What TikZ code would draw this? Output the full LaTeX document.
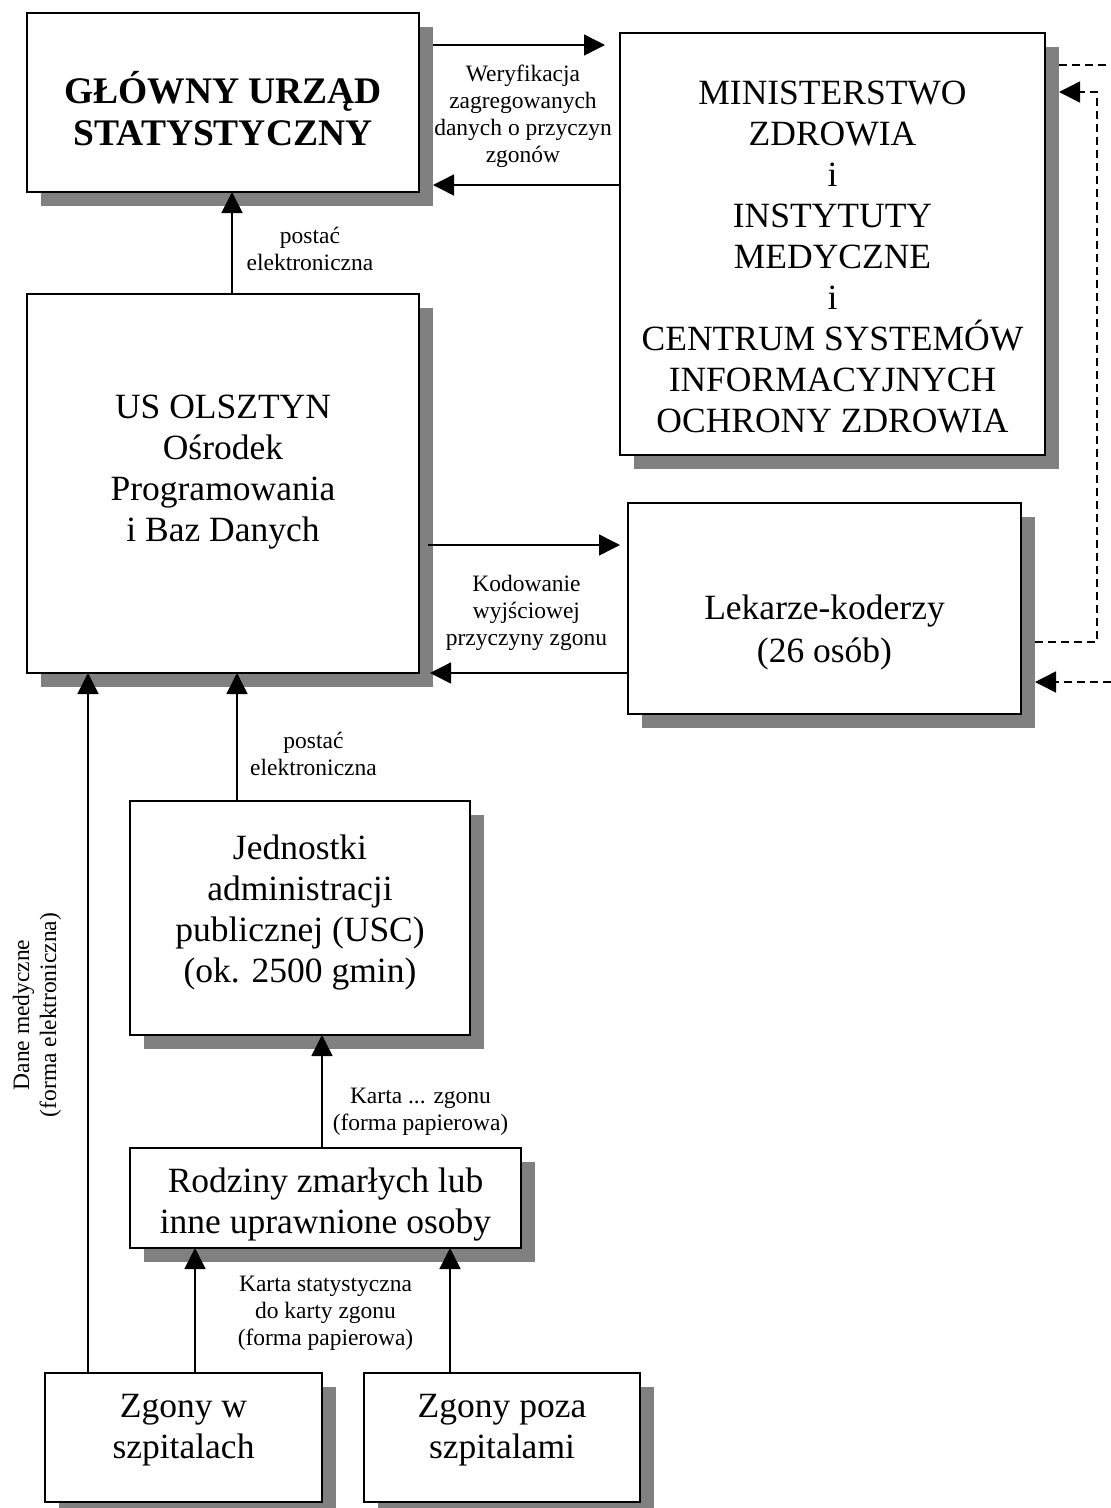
\documentclass[tikz,border=0pt]{standalone}
\usepackage{fontspec}
\setmainfont{Liberation Serif}
\usetikzlibrary{arrows.meta, shadows}

\newcommand\boxfont{\fontsize{35.5}{41}\selectfont}
\newcommand\lblfont{\fontsize{23.5}{27}\selectfont}

\begin{document}
\begin{tikzpicture}[
  x=1pt, y=-1pt,
  box/.style={draw, line width=2pt, fill=white, outer sep=0pt, inner sep=0pt,
    drop shadow={shadow xshift=14pt, shadow yshift=-14pt, fill=black!50, opacity=1}},
  boxtext/.style={align=center, inner sep=0pt, font=\boxfont},
  lbl/.style={align=center, inner sep=0pt, font=\lblfont},
  flow/.style={line width=1.5pt, -{Triangle[length=21pt,width=21pt]}},
  dflow/.style={flow, dash pattern=on 8pt off 5pt}]

  \useasboundingbox (0,0) rectangle (1111,1508);

  % boxes
  \node[box, minimum width=392pt, minimum height=179pt] (gus) at (223,102.5) {};
  \node[box, minimum width=425pt, minimum height=422pt] (mz) at (832.5,244) {};
  \node[box, minimum width=392pt, minimum height=379pt] (us) at (223,483.5) {};
  \node[box, minimum width=393pt, minimum height=211pt] (lek) at (824.5,608.5) {};
  \node[box, minimum width=340pt, minimum height=234pt] (jedn) at (300,918) {};
  \node[box, minimum width=391pt, minimum height=100pt] (rodz) at (325.5,1198) {};
  \node[box, minimum width=277pt, minimum height=129pt] (zgw) at (183.5,1437.5) {};
  \node[box, minimum width=276pt, minimum height=129pt] (zgp) at (502,1437.5) {};

  \node[boxtext, font={\fontsize{37.5}{42}\selectfont\bfseries}] (gusT) at (223,109)
    {GŁÓWNY URZĄD\\STATYSTYCZNY};
  \node[boxtext] (mzT) at (832.5,257.5) {MINISTERSTWO\\ZDROWIA\\i\\INSTYTUTY\\MEDYCZNE\\i\\
    CENTRUM SYSTEMÓW\\INFORMACYJNYCH\\OCHRONY ZDROWIA};
  \node[boxtext] (usT) at (223,472.5) {US OLSZTYN\\Ośrodek\\Programowania\\i Baz Danych};
  \node[boxtext, font={\fontsize{35.5}{43}\selectfont}] (lekT) at (824.5,632.5)
    {Lekarze-koderzy\\(26 osób)};
  \node[boxtext] (jednT) at (300,912.5)
    {Jednostki\\administracji\\publicznej (USC)\\(ok. 2500 gmin)};
  \node[boxtext] (rodzT) at (325.5,1204.5) {Rodziny zmarłych lub\\inne uprawnione osoby};
  \node[boxtext] (zgwT) at (183.5,1430.5) {Zgony w\\szpitalach};
  \node[boxtext] (zgpT) at (502,1430.5) {Zgony poza\\szpitalami};

  % solid flows
  \draw[flow] ([shift={(14,32)}]gus.north east) -- ([shift={(-15,12)}]mz.north west);
  \draw[flow] ([shift={(0,-59)}]mz.west) -- ([shift={(14,-7)}]gus.south east);
  \draw[flow] ([shift={(9,0)}]us.north) -- ([shift={(9,0)}]gus.south);
  \draw[flow] ([shift={(9,61.5)}]us.east) -- ([shift={(-8,-63.5)}]lek.west);
  \draw[flow] ([shift={(0,64.5)}]lek.west) -- ([shift={(11,0)}]us.south east);
  \draw[flow] ([shift={(-63,0)}]jedn.north) -- ([shift={(14,0)}]us.south);
  \draw[flow] ([shift={(-95.5,0)}]zgw.north) -- ([shift={(61,0)}]us.south west);
  \draw[flow] ([shift={(-3.5,0)}]rodz.north) -- ([shift={(22,0)}]jedn.south);
  \draw[flow] ([shift={(11.5,0)}]zgw.north) -- ([shift={(65,0)}]rodz.south west);
  \draw[flow] ([shift={(-52,0)}]zgp.north) -- ([shift={(320,0)}]rodz.south west);

  % dashed flows
  \coordinate (outA) at (1111,65);
  \coordinate (loopC) at (1097,92);
  \coordinate (inB) at (1111,682);
  \draw[line width=1.5pt, dash pattern=on 8pt off 5pt] ([shift={(14,32)}]mz.north east) -- (outA);
  \draw[dflow] ([shift={(14,33.5)}]lek.east) -| (loopC) -- ([shift={(14,-152)}]mz.east);
  \draw[dflow] (inB) -- ([shift={(14,73.5)}]lek.east);

  % labels
  \node[lbl] (verL) at (523,116.5) {Weryfikacja\\zagregowanych\\danych o przyczyn\\zgonów};
  \node[lbl] (elL1) at (310,248.5) {postać\\elektroniczna};
  \node[lbl] (kodL) at (526.5,613) {Kodowanie\\wyjściowej\\przyczyny zgonu};
  \node[lbl] (elL2) at (313.5,754) {postać\\elektroniczna};
  \node[lbl, rotate=90] (medL) at (37,1015) {Dane medyczne\\(forma elektroniczna)};
  \node[lbl] (kartaL) at (420.5,1111.5) {Karta ... zgonu\\(forma papierowa)};
  \node[lbl] (statL) at (325.5,1313) {Karta statystyczna\\do karty zgonu\\(forma papierowa)};
\end{tikzpicture}
\end{document}
